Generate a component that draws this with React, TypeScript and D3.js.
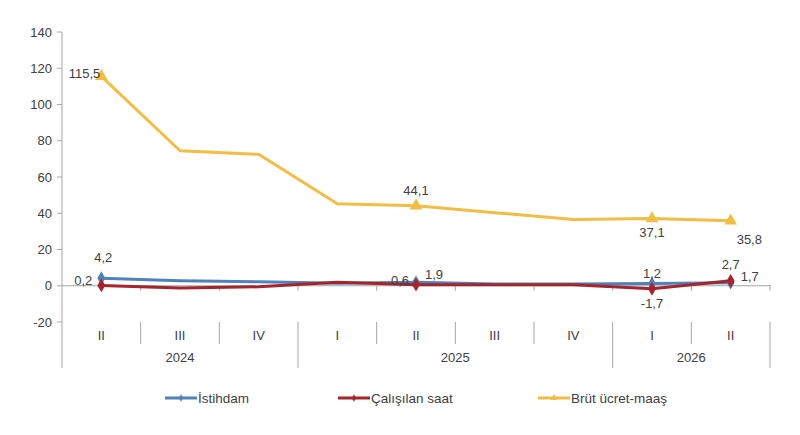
import * as d3 from "d3";
import { useEffect, useRef } from "react";

// quarters and years on the category axis
const quarters = ["II", "III", "IV", "I", "II", "III", "IV", "I", "II"];
const years = [
  { label: "2024", from: 0, to: 3 },
  { label: "2025", from: 3, to: 7 },
  { label: "2026", from: 7, to: 9 },
];

// series values (annual change, %)
const istihdam = [4.2, 2.8, 2.2, 1.4, 1.9, 1.0, 0.9, 1.2, 1.7];
const calisilanSaat = [0.2, -1.2, -0.6, 1.9, 0.6, 0.5, 0.5, -1.7, 2.7];
const brutUcret = [115.5, 74.5, 72.5, 45.2, 44.1, 40.3, 36.6, 37.1, 35.8];

const yTicks = [-20, 0, 20, 40, 60, 80, 100, 120, 140];

// points carrying a marker + label: [series, index, dx, dy, anchor]
const labels: [string, number, number, number, string][] = [
  ["b", 0, 2, -21, "middle"],
  ["r", 0, -9, -5, "end"],
  ["y", 0, -1, -3, "end"],
  ["b", 4, 9, -8, "start"],
  ["r", 4, -7, -4, "end"],
  ["y", 4, 0, -15, "middle"],
  ["b", 7, 0, -10, "middle"],
  ["r", 7, 0, 15, "middle"],
  ["y", 7, 0, 14, "middle"],
  ["b", 8, 10, -6, "start"],
  ["r", 8, 0, -16, "middle"],
  ["y", 8, 6, 19, "start"],
];

export default function App() {
  const ref = useRef<SVGSVGElement>(null);

  useEffect(() => {
    const svg = d3.select(ref.current);
    svg.selectAll("*").remove();

    const left = 62, right = 770;
    const x = d3.scaleBand<number>().domain(d3.range(quarters.length)).range([left, right]);
    const y = d3.scaleLinear().domain([-20, 140]).range([322, 32]);
    const font = "'Liberation Sans', Arial, sans-serif";
    const narrow = "'Liberation Sans Narrow', 'Arial Narrow', 'Liberation Sans', sans-serif";
    const grey = "#a6a6a6";

    const series: Record<string, { data: number[]; color: string; name: string }> = {
      b: { data: istihdam, color: "#4f81bd", name: "İstihdam" },
      r: { data: calisilanSaat, color: "#a4262c", name: "Çalışılan saat" },
      y: { data: brutUcret, color: "#f2bd45", name: "Brüt ücret-maaş" },
    };

    // y axis
    svg.append("line").attr("x1", left).attr("x2", left).attr("y1", y(140)).attr("y2", 368)
      .attr("stroke", grey);
    const yg = svg.append("g");
    yg.selectAll("line").data(yTicks).join("line")
      .attr("x1", left - 5).attr("x2", left).attr("y1", (d) => y(d)).attr("y2", (d) => y(d))
      .attr("stroke", grey);
    yg.selectAll("text").data(yTicks).join("text")
      .attr("x", left - 10).attr("y", (d) => y(d) + 4.5).attr("text-anchor", "end")
      .attr("font-family", font).attr("font-size", 13).attr("fill", "#404040")
      .text((d) => d);

    // zero line with category ticks
    svg.append("line").attr("x1", left).attr("x2", right + 1).attr("y1", y(0)).attr("y2", y(0))
      .attr("stroke", grey);
    svg.append("g").selectAll("line").data(d3.range(1, quarters.length + 1)).join("line")
      .attr("x1", (i) => left + x.step() * i).attr("x2", (i) => left + x.step() * i)
      .attr("y1", y(0)).attr("y2", y(0) + 5).attr("stroke", grey);

    // category axis (quarters + years)
    const cat = svg.append("g");
    const yearStarts = new Set(years.map((yr) => yr.from).concat([quarters.length]));
    d3.range(1, quarters.length + 1).forEach((i) => {
      const xx = left + x.step() * i;
      cat.append("line").attr("x1", xx).attr("x2", xx).attr("y1", 322)
        .attr("y2", yearStarts.has(i) ? 368 : 344).attr("stroke", grey);
    });
    cat.selectAll("text.q").data(quarters).join("text")
      .attr("x", (_, i) => x(i)! + x.bandwidth() / 2).attr("y", 340).attr("text-anchor", "middle")
      .attr("font-family", narrow).attr("font-size", 13).attr("fill", "#404040")
      .text((d) => d);
    years.forEach((yr) => {
      cat.append("text")
        .attr("x", (x(yr.from)! + left + x.step() * yr.to) / 2).attr("y", 362)
        .attr("text-anchor", "middle").attr("font-family", narrow).attr("font-size", 13)
        .attr("fill", "#404040").text(yr.label);
    });

    const cx = (i: number) => x(i)! + x.bandwidth() / 2;
    const line = d3.line<number>().x((_, i) => cx(i)).y((d) => y(d));

    // lines, drawn yellow, blue, red
    ["y", "b", "r"].forEach((k) => {
      svg.append("path").attr("d", line(series[k].data)).attr("fill", "none")
        .attr("stroke", series[k].color).attr("stroke-width", 3).attr("stroke-linejoin", "round");
    });

    const tri = d3.symbol(d3.symbolTriangle, 70);
    const dia = d3.symbol(d3.symbolDiamond, 55);
    ["y", "b", "r"].forEach((k) => {
      labels.filter((l) => l[0] === k).forEach(([, i]) => {
        svg.append("path").attr("d", (k === "y" ? tri : dia)())
          .attr("transform", `translate(${cx(i)},${y(series[k].data[i])})`)
          .attr("fill", series[k].color);
      });
    });

    // data labels
    svg.append("g").selectAll("text").data(labels).join("text")
      .attr("x", ([, i, dx]) => cx(i) + dx)
      .attr("y", ([k, i, , dy]) => y(series[k].data[i]) + dy + 4.5)
      .attr("text-anchor", (d) => d[4])
      .attr("font-family", font).attr("font-size", 13).attr("fill", "#404040")
      .text(([k, i]) => String(series[k].data[i]).replace(".", ","));

    // legend
    const legend = [
      { k: "b", x: 165 },
      { k: "r", x: 338 },
      { k: "y", x: 538 },
    ];
    legend.forEach(({ k, x: lx }) => {
      const g = svg.append("g").attr("transform", `translate(${lx},398)`);
      g.append("line").attr("x1", 0).attr("x2", 32).attr("stroke", series[k].color).attr("stroke-width", 3);
      g.append("path").attr("d", (k === "y" ? d3.symbol(d3.symbolTriangle, 20) : d3.symbol(d3.symbolDiamond, 16))())
        .attr("transform", "translate(16,0)").attr("fill", series[k].color);
      g.append("text").attr("x", 33).attr("y", 4.5).attr("font-family", narrow).attr("font-size", 13.5)
        .attr("fill", "#404040").text(series[k].name);
    });
  }, []);

  return (
    <svg ref={ref} width={800} height={435}
      style={{ position: "absolute", left: 0, top: 0, background: "#fff" }} />
  );
}
